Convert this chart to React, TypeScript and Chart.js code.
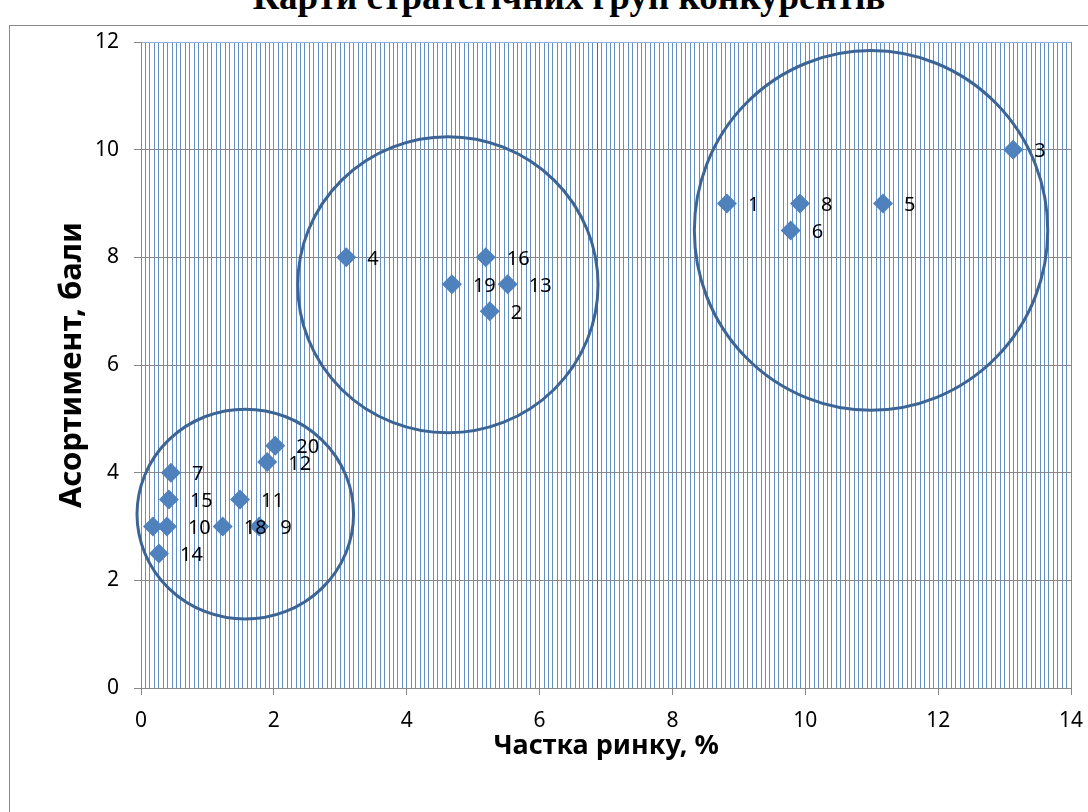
import React, { useEffect, useRef } from "react";
import { Chart, registerables } from "chart.js";

Chart.register(...registerables);

// ---- data ----
const CHART_TITLE = "Карти стратегічних груп конкурентів";
const X_TITLE = "Частка ринку, %";
const Y_TITLE = "Асортимент, бали";

const POINT_LABELS = ["1", "2", "3", "4", "5", "6", "7", "8", "9", "10", "11", "12", "13", "14", "15", "16", "", "18", "19", "20"];
const MARKET_SHARE = [8.82, 5.25, 13.13, 3.09, 11.17, 9.78, 0.45, 9.92, 1.78, 0.39, 1.49, 1.9, 5.52, 0.27, 0.42, 5.19, 0.18, 1.23, 4.68, 2.02];
const ASSORTMENT = [9, 7, 10, 8, 9, 8.5, 4, 9, 3, 3, 3.5, 4.2, 7.5, 2.5, 3.5, 8, 3, 3, 7.5, 4.5];

// strategic group ellipses (data units)
const GROUP_CX = [1.57, 4.62, 10.99];
const GROUP_CY = [3.23, 7.49, 8.5];
const GROUP_RX = [1.63, 2.26, 2.66];
const GROUP_RY = [1.95, 2.75, 3.34];

const X_MIN = 0;
const X_MAX = 14;
const X_MAJOR = 2;
const X_MINOR_STEP = 1 / 15;
const Y_MIN = 0;
const Y_MAX = 12;
const Y_STEP = 2;

const FONT = "'Noto Sans', 'DejaVu Sans', sans-serif";

const ellipsePlugin = {
  id: "groupEllipses",
  beforeDatasetsDraw(chart: any) {
    const { ctx, scales } = chart;
    const xs = scales.x;
    const ys = scales.y;
    ctx.save();
    ctx.strokeStyle = "#3C6596";
    ctx.lineWidth = 3;
    for (let i = 0; i < GROUP_CX.length; i++) {
      const cx = xs.getPixelForValue(GROUP_CX[i]);
      const cy = ys.getPixelForValue(GROUP_CY[i]);
      const rx = Math.abs(xs.getPixelForValue(GROUP_CX[i] + GROUP_RX[i]) - cx);
      const ry = Math.abs(ys.getPixelForValue(GROUP_CY[i] + GROUP_RY[i]) - cy);
      ctx.beginPath();
      ctx.ellipse(cx, cy, rx, ry, 0, 0, Math.PI * 2);
      ctx.stroke();
    }
    ctx.restore();
  },
};

const labelPlugin = {
  id: "pointLabels",
  afterDatasetsDraw(chart: any) {
    const { ctx } = chart;
    const meta = chart.getDatasetMeta(0);
    ctx.save();
    ctx.fillStyle = "#000";
    ctx.font = `20px ${FONT}`;
    ctx.textAlign = "left";
    ctx.textBaseline = "middle";
    meta.data.forEach((el: any, i: number) => {
      const t = POINT_LABELS[i];
      if (!t) return;
      ctx.fillText(t, el.x + 21, el.y + 2);
    });
    ctx.restore();
  },
};

const isMajor = (v: number) => Math.abs(v / X_MAJOR - Math.round(v / X_MAJOR)) < 1e-6;

export default function App() {
  const ref = useRef<HTMLCanvasElement | null>(null);

  useEffect(() => {
    if (!ref.current) return;
    const points = MARKET_SHARE.map((x, i) => ({ x, y: ASSORTMENT[i] }));
    const chart = new Chart(ref.current, {
      type: "scatter",
      data: {
        datasets: [
          {
            label: "Конкуренти",
            data: points,
            pointStyle: "rectRot",
            pointRadius: 10,
            backgroundColor: "#4F81BD",
            borderColor: "#4F81BD",
            borderWidth: 0,
          },
        ],
      },
      options: {
        animation: false,
        responsive: false,
        maintainAspectRatio: false,
        layout: { padding: { top: 42, right: 17, left: 0, bottom: 0 } },
        plugins: {
          legend: { display: false },
          tooltip: { enabled: false },
          title: { display: false },
        },
        scales: {
          x: {
            type: "linear",
            min: X_MIN,
            max: X_MAX,
            afterFit(scale: any) {
              scale.height = 124;
              scale.paddingRight = 0;
              scale.paddingLeft = 0;
            },
            ticks: {
              stepSize: X_MINOR_STEP,
              autoSkip: false,
              maxRotation: 0,
              minRotation: 0,
              padding: 13,
              color: "#000",
              font: { family: FONT, size: 21 },
              callback: (v: any) => (isMajor(Number(v)) ? String(Math.round(Number(v))) : ""),
            },
            grid: {
              drawOnChartArea: true,
              tickLength: 7,
              lineWidth: 1,
              color: (c: any) => {
                if (c.index === 103) return "#3E6AA3";
                return "rgba(79,129,189,0.88)";
              },
              tickColor: (c: any) => (c.tick && isMajor(c.tick.value) ? "#888888" : "rgba(0,0,0,0)"),
            },
            border: { display: true, color: "#888888", width: 1 },
            title: {
              display: true,
              text: X_TITLE,
              color: "#000",
              font: { family: FONT, size: 27, weight: "bold" },
              padding: { top: 0, bottom: 49 },
            },
          },
          y: {
            type: "linear",
            min: Y_MIN,
            max: Y_MAX,
            afterFit(scale: any) {
              scale.width = 141;
            },
            ticks: {
              stepSize: Y_STEP,
              padding: 15,
              color: "#000",
              font: { family: FONT, size: 21 },
            },
            grid: {
              tickLength: 7,
              lineWidth: 1,
              color: (c: any) => (c.tick && c.tick.value === Y_MAX ? "#8DB0DC" : "#888888"),
              tickColor: "#888888",
            },
            border: { display: true, color: "#888888", width: 1 },
            title: {
              display: true,
              text: Y_TITLE,
              color: "#000",
              font: { family: FONT, size: 31, weight: "bold" },
              padding: { top: 54, bottom: 0 },
            },
          },
        },
      },
      plugins: [ellipsePlugin, labelPlugin],
    });
    return () => chart.destroy();
  }, []);

  return (
    <div
      style={{
        position: "fixed",
        left: 0,
        top: 0,
        width: 1088,
        height: 812,
        overflow: "hidden",
        background: "#fff",
      }}
    >
      <div
        style={{
          position: "absolute",
          left: 9,
          top: 25,
          width: 1300,
          height: 1000,
          border: "1px solid #888888",
          boxSizing: "border-box",
        }}
      />
      <div
        style={{
          position: "absolute",
          left: 0,
          width: 1138,
          top: -22,
          textAlign: "center",
          fontFamily: "'Liberation Serif', 'Times New Roman', serif",
          fontWeight: "bold",
          fontSize: 37,
          lineHeight: "37px",
          whiteSpace: "nowrap",
        }}
      >
        {CHART_TITLE}
      </div>
      <canvas
        ref={ref}
        width={1088}
        height={812}
        style={{ position: "absolute", left: 0, top: 0, width: 1088, height: 812 }}
      />
    </div>
  );
}
